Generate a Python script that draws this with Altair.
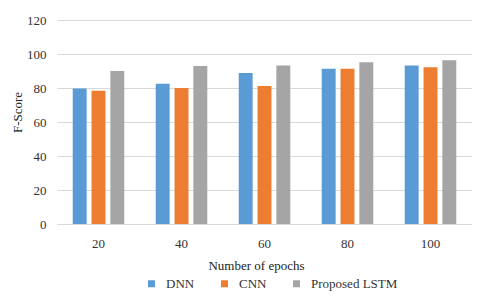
import altair as alt
import pandas as pd

epochs = ["20", "40", "60", "80", "100"]
models = ["DNN", "CNN", "Proposed LSTM"]
dnn = [79.7, 82.5, 88.8, 91.3, 93.3]
cnn = [78.4, 80.0, 81.2, 91.3, 92.2]
lstm = [90.0, 92.9, 93.3, 95.1, 96.3]
colors = ["#5B9BD5", "#ED7D31", "#A5A5A5"]

rows = []
for name, vals in zip(models, [dnn, cnn, lstm]):
    for e, v in zip(epochs, vals):
        rows.append({"epoch": e, "model": name, "score": v})
df = pd.DataFrame(rows)

FONT = "Liberation Serif"

chart = alt.Chart(df).mark_bar().encode(
    x=alt.X("epoch:N", sort=epochs,
            scale=alt.Scale(paddingInner=0.32, paddingOuter=0.16),
            axis=alt.Axis(title="Number of epochs", labelAngle=0, ticks=False,
                          labelPadding=13, domainColor="#D9D9D9",
                          titleX=199, titleY=41, titleBaseline="middle",
                          titleAlign="center")),
    xOffset=alt.XOffset("model:N", sort=models,
                        scale=alt.Scale(paddingInner=0.26, paddingOuter=0.13)),
    y=alt.Y("score:Q", scale=alt.Scale(domain=[0, 120]),
            axis=alt.Axis(title="F-Score", values=[0, 20, 40, 60, 80, 100, 120],
                          ticks=False, domain=False, labelPadding=11,
                          titleX=-40, titleY=92, titleBaseline="middle",
                          titleAlign="center")),
    color=alt.Color("model:N", sort=models,
                    scale=alt.Scale(domain=models, range=colors),
                    legend=alt.Legend(title=None, orient="none", direction="horizontal",
                                      legendX=88, legendY=257, symbolType="square",
                                      symbolSize=49, columnPadding=23,
                                      labelOffset=8, symbolStrokeWidth=0)),
).properties(
    width=415, height=204,
    autosize=alt.AutoSizeParams(type="none"),
    padding={"left": 49, "top": 12, "right": 0, "bottom": 69},
).configure_view(stroke=None).configure_axis(
    labelFont=FONT, titleFont=FONT, labelFontSize=13, titleFontSize=13,
    labelColor="#333333", titleColor="#222222", titleFontWeight="normal",
    gridColor="#D9D9D9", gridWidth=1,
).configure_legend(
    labelFont=FONT, labelFontSize=13, labelColor="#333333",
)

chart.save("out.html", embed_options={"renderer": "svg", "actions": False})
